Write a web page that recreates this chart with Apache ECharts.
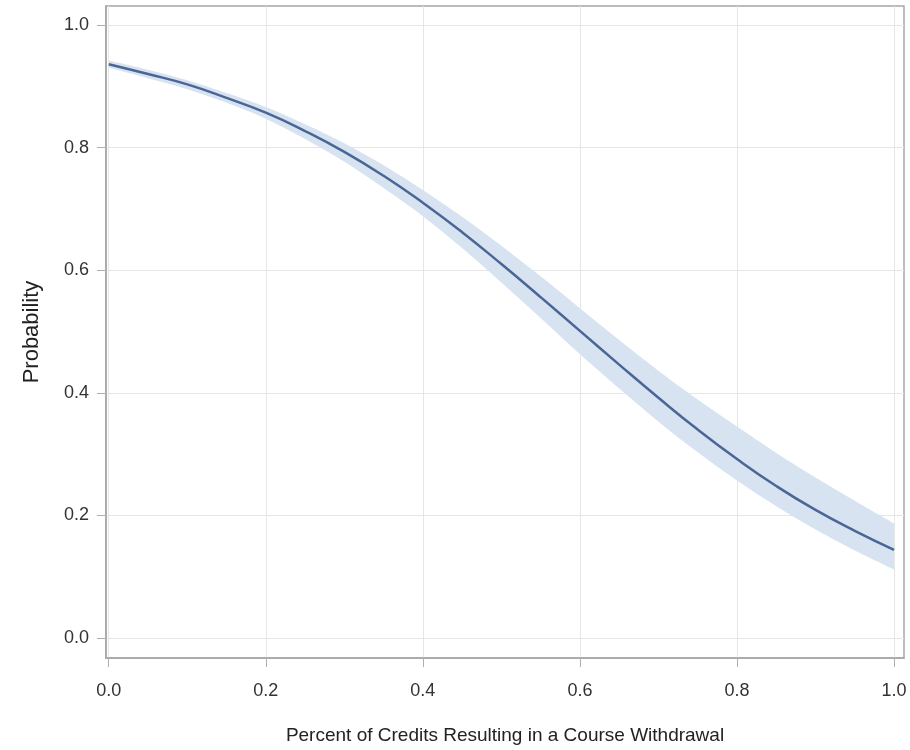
<!DOCTYPE html>
<html>
<head>
<meta charset="utf-8">
<script src="https://cdn.jsdelivr.net/npm/echarts@6/dist/echarts.min.js"></script>
<style>html,body{margin:0;padding:0;background:#fff}#chart{width:910px;height:750px}</style>
</head>
<body>
<div id="chart"></div>
<script>
// x positions (percent of credits resulting in a course withdrawal)
const xs = [0, 0.05, 0.10, 0.15, 0.20, 0.25, 0.30, 0.35, 0.40, 0.45, 0.50, 0.55, 0.60, 0.65, 0.70, 0.75, 0.80, 0.85, 0.90, 0.95, 1.00];
// predicted probability
const prob = [0.936, 0.920, 0.903, 0.881, 0.857, 0.827, 0.793, 0.754, 0.710, 0.662, 0.610, 0.556, 0.501, 0.446, 0.392, 0.340, 0.292, 0.248, 0.209, 0.175, 0.144];
// confidence limits
const lower = [0.930, 0.913, 0.895, 0.873, 0.847, 0.814, 0.777, 0.734, 0.688, 0.636, 0.580, 0.522, 0.463, 0.407, 0.353, 0.303, 0.257, 0.215, 0.177, 0.143, 0.112];
const upper = [0.942, 0.927, 0.910, 0.889, 0.866, 0.838, 0.807, 0.771, 0.731, 0.687, 0.640, 0.590, 0.538, 0.486, 0.436, 0.389, 0.345, 0.302, 0.262, 0.224, 0.187];
// tick values
const xTicks = [0, 0.2, 0.4, 0.6, 0.8, 1.0];
const yTicks = [0, 0.2, 0.4, 0.6, 0.8, 1.0];

const FONT = '"Liberation Sans", Arial, sans-serif';
const bandData = xs.map((x, i) => [x, lower[i], upper[i]]);

// Catmull-Rom spline through pixel points, as SVG path commands
function splinePath(pts, start) {
  let d = start ? 'M' + pts[0][0] + ' ' + pts[0][1] : 'L' + pts[0][0] + ' ' + pts[0][1];
  for (let i = 0; i < pts.length - 1; i++) {
    const p0 = pts[Math.max(i - 1, 0)], p1 = pts[i], p2 = pts[i + 1], p3 = pts[Math.min(i + 2, pts.length - 1)];
    const c1 = [p1[0] + (p2[0] - p0[0]) / 6, p1[1] + (p2[1] - p0[1]) / 6];
    const c2 = [p2[0] - (p3[0] - p1[0]) / 6, p2[1] - (p3[1] - p1[1]) / 6];
    d += ' C' + c1[0] + ' ' + c1[1] + ' ' + c2[0] + ' ' + c2[1] + ' ' + p2[0] + ' ' + p2[1];
  }
  return d;
}

const chart = echarts.init(document.getElementById('chart'));
chart.setOption({
  animation: false,
  grid: {left: 106, top: 6, right: 6, bottom: 90, show: true, borderColor: '#a6a6a6', borderWidth: 1.5, containLabel: false},
  xAxis: {
    type: 'value', min: -0.0035, max: 1.0127,
    name: 'Percent of Credits Resulting in a Course Withdrawal',
    nameLocation: 'middle', nameGap: 68,
    nameTextStyle: {fontFamily: FONT, fontSize: 19, color: '#222'},
    axisLine: {show: true, onZero: false, lineStyle: {color: '#a6a6a6', width: 1.5}},
    axisTick: {show: true, length: 9, customValues: xTicks, lineStyle: {color: '#b0b0b0'}},
    axisLabel: {customValues: xTicks, margin: 24, fontFamily: FONT, fontSize: 18, color: '#333', formatter: v => v.toFixed(1)},
    splitLine: {show: true, lineStyle: {color: '#e6e6e6', width: 1}}
  },
  yAxis: {
    type: 'value', min: -0.0325, max: 1.0309,
    name: 'Probability',
    nameLocation: 'middle', nameGap: 63,
    nameTextStyle: {fontFamily: FONT, fontSize: 22, color: '#222'},
    axisLine: {show: true, onZero: false, lineStyle: {color: '#a6a6a6', width: 1.5}},
    axisTick: {show: true, length: 9, customValues: yTicks, lineStyle: {color: '#b0b0b0'}},
    axisLabel: {customValues: yTicks, margin: 17, fontFamily: FONT, fontSize: 18, color: '#333', formatter: v => v.toFixed(1)},
    splitLine: {show: true, lineStyle: {color: '#e6e6e6', width: 1}}
  },
  series: [
    {
      type: 'custom', silent: true, z: 1,
      data: [0],
      renderItem: function (params, api) {
        const top = bandData.map(d => api.coord([d[0], d[2]]));
        const bot = bandData.slice().reverse().map(d => api.coord([d[0], d[1]]));
        const pathData = splinePath(top, true) + ' ' + splinePath(bot, false) + ' Z';
        return {
          type: 'path',
          shape: {pathData: pathData},
          style: {fill: '#d8e3f1', stroke: null}
        };
      }
    },
    {
      type: 'line', symbol: 'none', smooth: true, silent: true, z: 3,
      lineStyle: {color: '#4a6696', width: 2.5},
      data: xs.map((x, i) => [x, prob[i]])
    }
  ]
});
</script>
</body>
</html>
